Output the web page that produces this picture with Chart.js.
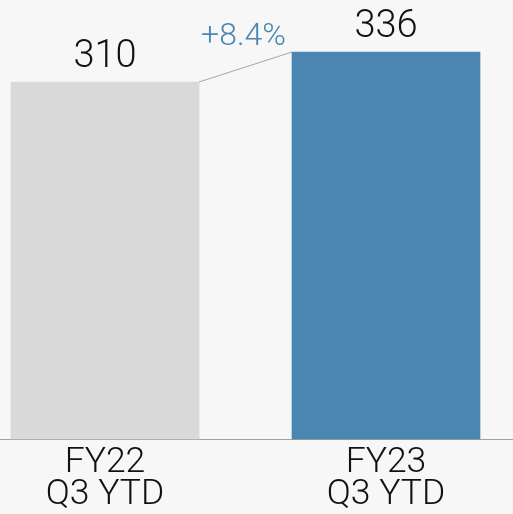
<!DOCTYPE html>
<html>
<head>
<meta charset="utf-8">
<script src="https://cdn.jsdelivr.net/npm/chart.js@4"></script>
<style>
  html, body { margin: 0; padding: 0; background: #f7f7f7; }
  #wrap { width: 513px; height: 514px; }
</style>
</head>
<body>
<div id="wrap"><canvas id="c" width="513" height="514"></canvas></div>
<script>
const categories = [['FY22', 'Q3 YTD'], ['FY23', 'Q3 YTD']];
const values = [310, 336];
const barColors = ['#d9d9d9', '#4a86b0'];

const FONT = 'Roboto, "Liberation Sans", sans-serif';

const labelPlugin = {
  id: 'labels',
  afterDatasetsDraw(chart) {
    const ctx = chart.ctx;
    const els = chart.getDatasetMeta(0).data;
    ctx.save();
    const a = els[0], b = els[1];
    ctx.strokeStyle = '#a6a6a6';
    ctx.lineWidth = 1;
    ctx.beginPath();
    ctx.moveTo(a.x + a.width / 2, a.y);
    ctx.lineTo(b.x - b.width / 2, b.y);
    ctx.stroke();
    ctx.fillStyle = '#111';
    ctx.font = '300 38px ' + FONT;
    ctx.textAlign = 'center';
    ctx.textBaseline = 'alphabetic';
    els.forEach((el, i) => {
      ctx.fillText(String(values[i]), el.x, el.y - 15);
    });
    const g = (values[1] - values[0]) / values[0] * 100;
    ctx.fillStyle = '#4a86b0';
    ctx.font = '300 32px ' + FONT;
    const mx = ((a.x + a.width / 2) + (b.x - b.width / 2)) / 2;
    ctx.fillText('+' + g.toFixed(1) + '%', mx - 2, Math.min(a.y, b.y) - 7);
    ctx.restore();
  }
};

new Chart(document.getElementById('c'), {
  type: 'bar',
  data: {
    datasets: [{
      data: values.map((v, i) => ({ x: i, y: v })),
      backgroundColor: barColors,
      barThickness: 188,
      borderWidth: 0,
      clip: false
    }]
  },
  options: {
    responsive: false,
    animation: false,
    events: [],
    layout: { padding: 0 },
    plugins: { legend: { display: false }, tooltip: { enabled: false } },
    scales: {
      x: {
        type: 'linear',
        offset: false,
        bounds: 'data',
        min: -0.3737,
        max: 1.452,
        afterBuildTicks(scale) { scale.ticks = [{ value: 0 }, { value: 1 }]; },
        afterFit(scale) { scale.height = 75; },
        grid: { display: false, drawTicks: false, offset: false },
        border: { display: true, color: '#a0a0a0', width: 1 },
        ticks: {
          autoSkip: false,
          maxRotation: 0,
          padding: 9,
          color: '#111',
          font: { family: FONT, size: 35.5, weight: '300', lineHeight: 0.88 },
          callback: (v) => categories[v]
        }
      },
      y: {
        display: false,
        min: 0,
        max: 381.2
      }
    }
  },
  plugins: [labelPlugin, {
    id: 'bg',
    beforeDraw(chart) {
      const ctx = chart.ctx;
      ctx.save();
      ctx.fillStyle = '#f7f7f7';
      ctx.fillRect(0, 0, chart.width, chart.height);
      ctx.restore();
    }
  }]
});
</script>
</body>
</html>
